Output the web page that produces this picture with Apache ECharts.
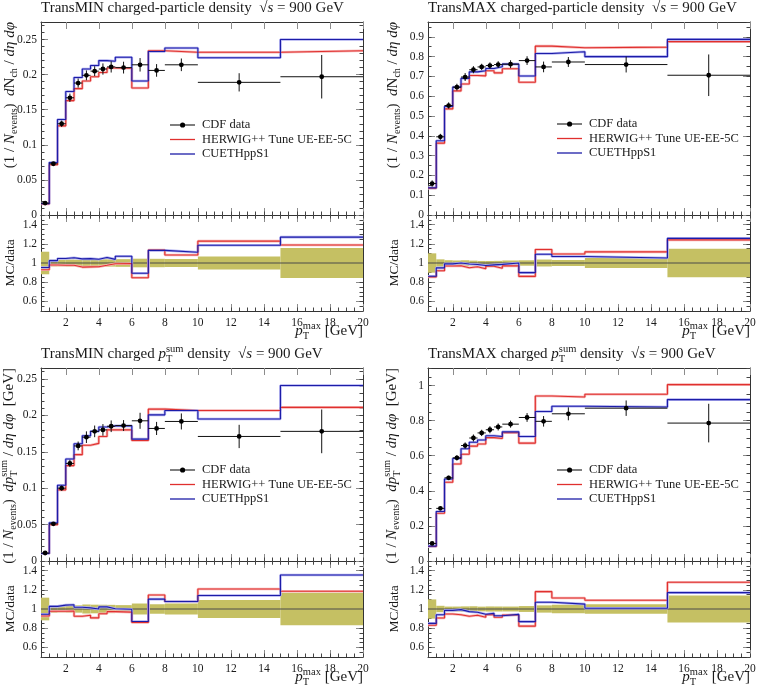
<!DOCTYPE html>
<html>
<head>
<meta charset="utf-8">
<script src="https://cdn.jsdelivr.net/npm/echarts@6/dist/echarts.min.js"></script>
<style>
  html, body { margin: 0; padding: 0; background: #fff; }
  #chart { width: 757px; height: 687px; }
</style>
</head>
<body>
<div id="chart"></div>
<script>
// bins in pT max [GeV]
const binEdges = [0.5, 1, 1.5, 2, 2.5, 3, 3.5, 4, 4.5, 5, 6, 7, 8, 10, 15, 20];

// tick values
const xTicks = [2, 4, 6, 8, 10, 12, 14, 16, 18, 20];
const ratioTicks = [0.6, 0.8, 1, 1.2, 1.4];
const densTicks = [0, 0.05, 0.1, 0.15, 0.2, 0.25];
const nchMaxTicks = [0, 0.1, 0.2, 0.3, 0.4, 0.5, 0.6, 0.7, 0.8, 0.9];
const ptsumMaxTicks = [0, 0.2, 0.4, 0.6, 0.8, 1];

// TransMIN charged-particle density
const nchMinData   = [0.017, 0.073, 0.130, 0.167, 0.188, 0.199, 0.205, 0.208, 0.211, 0.210, 0.214, 0.206, 0.214, 0.189, 0.197];
const nchMinErr    = [0.002, 0.0026, 0.0045, 0.006, 0.0065, 0.007, 0.007, 0.008, 0.008, 0.0084, 0.0096, 0.009, 0.009, 0.013, 0.031];
const nchMinHerwig = [0.0158, 0.0715, 0.127, 0.163, 0.180, 0.191, 0.197, 0.203, 0.2095, 0.209, 0.181, 0.234, 0.232, 0.232, 0.234];
const nchMinCuet   = [0.0162, 0.0748, 0.136, 0.176, 0.196, 0.208, 0.213, 0.220, 0.219, 0.2248, 0.191, 0.233, 0.238, 0.224, 0.250];

// TransMAX charged-particle density
const nchMaxData   = [0.159, 0.395, 0.553, 0.646, 0.697, 0.734, 0.748, 0.755, 0.760, 0.762, 0.780, 0.748, 0.773, 0.760, 0.706];
const nchMaxErr    = [0.016, 0.015, 0.016, 0.017, 0.020, 0.018, 0.016, 0.016, 0.017, 0.020, 0.022, 0.027, 0.025, 0.040, 0.105];
const nchMaxHerwig = [0.136, 0.363, 0.536, 0.627, 0.662, 0.705, 0.703, 0.729, 0.718, 0.739, 0.671, 0.853, 0.845, 0.848, 0.876];
const nchMaxCuet   = [0.137, 0.375, 0.548, 0.646, 0.690, 0.723, 0.729, 0.740, 0.749, 0.762, 0.702, 0.816, 0.825, 0.800, 0.887];

// TransMIN charged pTsum density
const ptsumMinData   = [0.011, 0.051, 0.100, 0.134, 0.158, 0.170, 0.178, 0.180, 0.185, 0.186, 0.1925, 0.182, 0.1916, 0.171, 0.178];
const ptsumMinErr    = [0.0013, 0.002, 0.0035, 0.005, 0.006, 0.008, 0.008, 0.008, 0.008, 0.0075, 0.011, 0.009, 0.011, 0.016, 0.030];
const ptsumMinHerwig = [0.0102, 0.0498, 0.0977, 0.131, 0.146, 0.159, 0.1615, 0.171, 0.180, 0.180, 0.1655, 0.2085, 0.2066, 0.2066, 0.211];
const ptsumMinCuet   = [0.0104, 0.0524, 0.104, 0.140, 0.161, 0.172, 0.178, 0.184, 0.1856, 0.1856, 0.1673, 0.2007, 0.2066, 0.195, 0.241];

// TransMAX charged pTsum density
const ptsumMaxData   = [0.100, 0.300, 0.474, 0.588, 0.658, 0.701, 0.730, 0.748, 0.764, 0.780, 0.818, 0.796, 0.839, 0.871, 0.786];
const ptsumMaxErr    = [0.010, 0.010, 0.012, 0.015, 0.018, 0.020, 0.018, 0.020, 0.020, 0.020, 0.025, 0.030, 0.037, 0.044, 0.110];
const ptsumMaxHerwig = [0.083, 0.272, 0.449, 0.553, 0.608, 0.655, 0.667, 0.703, 0.698, 0.731, 0.672, 0.940, 0.935, 0.950, 1.005];
const ptsumMaxCuet   = [0.085, 0.282, 0.467, 0.584, 0.640, 0.677, 0.690, 0.714, 0.710, 0.736, 0.710, 0.852, 0.882, 0.878, 0.920];

const FONT = '"Liberation Serif", "DejaVu Serif", serif';
const TXT = '#1a1a1a';
const RED = '#e0302e', RED_BAND = '#f6b4b4';
const BLUE = '#1c1ca8', BLUE_BAND = '#b0b0f0';
const OLIVE = '#c5c063';
const MAIN_H = 193, RATIO_H = 96, PLOT_W = 322;

const NAME_DATA = 'CDF data', NAME_HW = 'HERWIG++ Tune UE-EE-5C', NAME_CU = 'CUETHppS1';

// text with sub/superscripts, drawn as a group of plain texts
const measureCtx = document.createElement('canvas').getContext('2d');
function textWidth(t, size, italic) {
  measureCtx.font = (italic ? 'italic ' : '') + size + 'px "Liberation Serif"';
  return measureCtx.measureText(t).width;
}
// parts: [text, size, italic, dy, stacked]
function mathText(parts, x, y, align, rotation) {
  let cx = 0, held = 0;
  const kids = [];
  parts.forEach(([t, s, it, dy, stack]) => {
    const w = textWidth(t, s, it);
    kids.push({
      type: 'text', x: cx, y: (dy || 0) - 0.34 * s, silent: true,
      style: {text: t, fontSize: s, fontFamily: FONT, fontStyle: it ? 'italic' : 'normal',
              fill: TXT, align: 'left', verticalAlign: 'middle'}
    });
    if (stack) { held = w; } else { cx += Math.max(w, held); held = 0; }
  });
  const shift = align === 'right' ? -cx : align === 'center' ? -cx / 2 : 0;
  kids.forEach(k => { k.x += shift; });
  return {type: 'group', x, y, rotation: rotation || 0, children: kids};
}

const titleNch = kind => [[kind + ' charged-particle density  ', 15], ['√', 15], ['s', 15, 1], [' = 900 GeV', 15]];
const titlePt = kind => [[kind + ' charged ', 15], ['p', 15, 1], ['sum', 10.5, 0, -6.5, 1], ['T', 10.5, 0, 3.5],
                         [' density  ', 15], ['√', 15], ['s', 15, 1], [' = 900 GeV', 15]];
const yTitleNch = [['(1 / ', 15], ['N', 15, 1], ['events', 10, 0, 3], [')  ', 15], ['d', 15, 1], ['N', 15],
                   ['ch', 10, 0, 3], [' / ', 15], ['dη dφ', 15, 1]];
const yTitlePt = [['(1 / ', 15], ['N', 15, 1], ['events', 10, 0, 3], [')  ', 15], ['d', 15, 1], ['p', 15, 1],
                  ['sum', 10, 0, -6, 1], ['T', 10, 0, 3.5], [' / ', 15], ['dη dφ', 15, 1], ['  [GeV]', 15]];
const xTitle = [['p', 15, 1], ['max', 10.5, 0, -6.5, 1], ['T', 10.5, 0, 3.5], [' [GeV]', 15]];

const panels = [
  {left: 41, top: 22, yMax: 0.275, yTicks: densTicks, yMinor: 0.01, title: titleNch('TransMIN'), yTitle: yTitleNch,
   data: nchMinData, err: nchMinErr, herwig: nchMinHerwig, cuet: nchMinCuet, legendTop: 118.5, yTitleGap: 26, ratioGap: 25.5},
  {left: 428, top: 22, yMax: 0.975, yTicks: nchMaxTicks, yMinor: 0.05, title: titleNch('TransMAX'), yTitle: yTitleNch,
   data: nchMaxData, err: nchMaxErr, herwig: nchMaxHerwig, cuet: nchMaxCuet, legendTop: 117.5, yTitleGap: 30, ratioGap: 28.5},
  {left: 41, top: 368, yMax: 0.265, yTicks: densTicks, yMinor: 0.01, title: titlePt('TransMIN'), yTitle: yTitlePt,
   data: ptsumMinData, err: ptsumMinErr, herwig: ptsumMinHerwig, cuet: ptsumMinCuet, legendTop: 463.5, yTitleGap: 27, ratioGap: 25.5},
  {left: 428, top: 368, yMax: 1.1, yTicks: ptsumMaxTicks, yMinor: 0.05, title: titlePt('TransMAX'), yTitle: yTitlePt,
   data: ptsumMaxData, err: ptsumMaxErr, herwig: ptsumMaxHerwig, cuet: ptsumMaxCuet, legendTop: 463.5, yTitleGap: 31, ratioGap: 28.5}
];

const grid = [], xAxis = [], yAxis = [], series = [], legend = [], graphic = [];

// major (custom) + minor (interval) axes on both sides of a grid
function addAxes(list, gridIndex, dim, min, max, majors, minorStep, withLabels) {
  const sides = dim === 'x' ? ['bottom', 'top'] : ['left', 'right'];
  const first = list.length;
  sides.forEach((side, k) => {
    list.push({
      type: 'value', gridIndex, position: side, min, max,
      axisLine: {show: true, onZero: false, lineStyle: {color: '#333', width: 1}},
      axisTick: {show: true, inside: true, length: 7, customValues: majors, lineStyle: {color: '#8c8c8c', width: 1}},
      axisLabel: {show: withLabels && k === 0, customValues: majors, margin: dim === 'x' ? 6 : 4,
                  fontFamily: FONT, fontSize: 11.5, color: TXT},
      splitLine: {show: false}
    });
    list.push({
      type: 'value', gridIndex, position: side, min, max, interval: minorStep,
      axisLine: {show: false}, axisLabel: {show: false}, splitLine: {show: false},
      axisTick: {show: true, inside: true, length: 3.5, lineStyle: {color: '#444', width: 1}}
    });
  });
  return first;
}

function stepPoints(vals) {
  const pts = vals.map((v, i) => [binEdges[i], v]);
  pts.push([binEdges[vals.length], vals[vals.length - 1]]);
  return pts;
}

function mcLines(name, vals, xi, yi, core, halo) {
  return [
    {type: 'line', name: name + ' band', xAxisIndex: xi, yAxisIndex: yi, step: 'end', symbol: 'none', silent: true,
     data: stepPoints(vals), lineStyle: {color: halo, width: 2.6}, z: 2},
    {type: 'line', name, xAxisIndex: xi, yAxisIndex: yi, step: 'end', symbol: 'none',
     data: stepPoints(vals), lineStyle: {color: core, width: 1.1}, itemStyle: {color: core}, z: 3}
  ];
}

const dotIcon = 'path://M0,2 L25,2 L25,3.2 L0,3.2 Z M10,2.6 A2.6,2.6 0 1 1 15.2,2.6 A2.6,2.6 0 1 1 10,2.6 Z';
const lineIcon = 'path://M0,0 L25,0 L25,1.3 L0,1.3 Z';

panels.forEach(p => {
  const gMain = grid.length;
  grid.push({left: p.left, top: p.top, width: PLOT_W, height: MAIN_H, outerBoundsMode: 'none'});
  const gRatio = grid.length;
  grid.push({left: p.left, top: p.top + MAIN_H, width: PLOT_W, height: RATIO_H, outerBoundsMode: 'none'});

  const xm = addAxes(xAxis, gMain, 'x', 0.5, 20, xTicks, 0.5, false);
  const ym = addAxes(yAxis, gMain, 'y', 0, p.yMax, p.yTicks, p.yMinor, true);
  const xr = addAxes(xAxis, gRatio, 'x', 0.5, 20, xTicks, 0.5, true);
  const yr = addAxes(yAxis, gRatio, 'y', 0.5, 1.5, ratioTicks, 0.05, true);

  // main panel: MC histograms + data points
  series.push(...mcLines(NAME_HW, p.herwig, xm, ym, RED, RED_BAND));
  series.push(...mcLines(NAME_CU, p.cuet, xm, ym, BLUE, BLUE_BAND));
  series.push({
    type: 'custom', name: NAME_DATA, xAxisIndex: xm, yAxisIndex: ym, z: 5,
    itemStyle: {color: '#000'},
    data: p.data.map((v, i) => [(binEdges[i] + binEdges[i + 1]) / 2, v, p.err[i], binEdges[i], binEdges[i + 1]]),
    renderItem(params, api) {
      const y = api.value(1), e = api.value(2);
      const c = api.coord([api.value(0), y]);
      const l = api.coord([api.value(3), y]);
      const r = api.coord([api.value(4), y]);
      const t = api.coord([api.value(0), y + e]);
      const b = api.coord([api.value(0), y - e]);
      return {type: 'group', children: [
        {type: 'line', shape: {x1: l[0], y1: c[1], x2: r[0], y2: c[1]}, style: {stroke: '#111', lineWidth: 1}},
        {type: 'line', shape: {x1: c[0], y1: t[1], x2: c[0], y2: b[1]}, style: {stroke: '#111', lineWidth: 1}},
        {type: 'circle', shape: {cx: c[0], cy: c[1], r: 2.4}, style: {fill: '#000'}}
      ]};
    }
  });

  // ratio panel: data uncertainty band, unity line, MC/data
  series.push({
    type: 'custom', name: 'data band', xAxisIndex: xr, yAxisIndex: yr, z: 1, silent: true,
    data: p.data.map((v, i) => [binEdges[i], binEdges[i + 1], p.err[i] / v]),
    renderItem(params, api) {
      const a = api.coord([api.value(0), 1 + api.value(2)]);
      const b = api.coord([api.value(1), 1 - api.value(2)]);
      return {type: 'rect', shape: {x: a[0], y: a[1], width: b[0] - a[0], height: b[1] - a[1]}, style: {fill: OLIVE}};
    }
  });
  series.push({type: 'line', name: 'unity', xAxisIndex: xr, yAxisIndex: yr, symbol: 'none', silent: true, z: 2,
               data: [[binEdges[0], 1], [binEdges[binEdges.length - 1], 1]], lineStyle: {color: '#4a4a4a', width: 1}});
  series.push(...mcLines(NAME_HW, p.herwig.map((v, i) => v / p.data[i]), xr, yr, RED, RED_BAND));
  series.push(...mcLines(NAME_CU, p.cuet.map((v, i) => v / p.data[i]), xr, yr, BLUE, BLUE_BAND));

  legend.push({
    orient: 'vertical', left: p.left + 129, top: p.legendTop, itemWidth: 25, itemHeight: 5.2, itemGap: 1.5,
    selectedMode: false, padding: 0,
    textStyle: {fontFamily: FONT, fontSize: 12.5, color: TXT, lineHeight: 13, padding: [0, 0, 0, 2]},
    data: [{name: NAME_DATA, icon: dotIcon}, {name: NAME_HW, icon: lineIcon}, {name: NAME_CU, icon: lineIcon}]
  });

  // texts
  const ratioBottom = p.top + MAIN_H + RATIO_H;
  graphic.push(mathText(p.title, p.left, p.top - 9, 'left'));
  graphic.push(mathText(p.yTitle, p.left - p.yTitleGap, p.top, 'right', Math.PI / 2));
  graphic.push(mathText([['MC/data', 13.5]], p.left - p.ratioGap, p.top + MAIN_H + RATIO_H / 2, 'center', Math.PI / 2));
  graphic.push(mathText(xTitle, p.left + PLOT_W, ratioBottom + 25.5, 'right'));
});

const chart = echarts.init(document.getElementById('chart'));
chart.setOption({
  backgroundColor: '#fff',
  animation: false,
  grid, xAxis, yAxis, series, legend, graphic
});
</script>
</body>
</html>
